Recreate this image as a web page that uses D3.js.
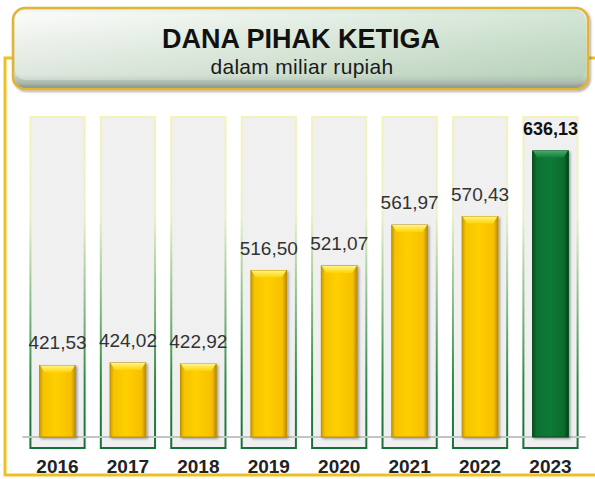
<!DOCTYPE html>
<html>
<head>
<meta charset="utf-8">
<script src="https://cdn.jsdelivr.net/npm/d3@7"></script>
<style>
  html, body { margin: 0; padding: 0; background: #fff; }
  svg { display: block; font-family: "Liberation Sans", Arial, sans-serif; }
</style>
</head>
<body>
<div id="chart"></div>
<script>
(function () {
    "use strict";

    // data
    var years = ["2016", "2017", "2018", "2019", "2020", "2021", "2022", "2023"];
    var values = [421.53, 424.02, 422.92, 516.50, 521.07, 561.97, 570.43, 636.13];
    var labels = ["421,53", "424,02", "422,92", "516,50", "521,07", "561,97", "570,43", "636,13"];
    var highlightYear = "2023";
    var title = "DANA PIHAK KETIGA";
    var subtitle = "dalam miliar rupiah";

    var width = 595, height = 479;

    var svg = d3.select("#chart").append("svg")
        .attr("width", width)
        .attr("height", height);

    var defs = svg.append("defs");

    // title box gradient
    var tg = defs.append("linearGradient").attr("id", "titleGrad")
        .attr("x1", 0).attr("y1", 0).attr("x2", 0).attr("y2", 1);
    [["0%", "#e6ece4"], ["8%", "#f7f9f6"], ["40%", "#e3ebe1"], ["82%", "#ccdacb"], ["93%", "#aab6aa"], ["100%", "#7f8a7f"]]
        .forEach(function (s) { tg.append("stop").attr("offset", s[0]).attr("stop-color", s[1]); });
    var th = defs.append("linearGradient").attr("id", "titleTint")
        .attr("x1", 0).attr("y1", 0).attr("x2", 1).attr("y2", 0);
    th.append("stop").attr("offset", "0%").attr("stop-color", "#ffffff").attr("stop-opacity", 0.35);
    th.append("stop").attr("offset", "100%").attr("stop-color", "#9cc7a4").attr("stop-opacity", 0.4);

    // column outline gradient
    var cg = defs.append("linearGradient").attr("id", "colStroke")
        .attr("x1", 0).attr("y1", 0).attr("x2", 0).attr("y2", 1);
    [["0%", "#f6f1b8"], ["30%", "#e8f2c8"], ["55%", "#8cc08a"], ["80%", "#2e8a46"], ["100%", "#16703a"]]
        .forEach(function (s) { cg.append("stop").attr("offset", s[0]).attr("stop-color", s[1]); });

    // bar gradients
    function barGrad(id, stops) {
        var g = defs.append("linearGradient").attr("id", id)
            .attr("x1", 0).attr("y1", 0).attr("x2", 1).attr("y2", 0);
        stops.forEach(function (s) { g.append("stop").attr("offset", s[0]).attr("stop-color", s[1]); });
    }
    barGrad("goldGrad", [["0%", "#c99a00"], ["10%", "#f5c400"], ["45%", "#ffcf06"], ["88%", "#f6c000"], ["100%", "#b98b00"]]);
    barGrad("greenGrad", [["0%", "#05521f"], ["12%", "#0a7032"], ["50%", "#0b7a36"], ["88%", "#086a2e"], ["100%", "#04481c"]]);

    var capGold = defs.append("linearGradient").attr("id", "capGold")
        .attr("x1", 0).attr("y1", 0).attr("x2", 0).attr("y2", 1);
    capGold.append("stop").attr("offset", "0%").attr("stop-color", "#fff48a");
    capGold.append("stop").attr("offset", "100%").attr("stop-color", "#ffd400");
    var capGreen = defs.append("linearGradient").attr("id", "capGreen")
        .attr("x1", 0).attr("y1", 0).attr("x2", 0).attr("y2", 1);
    capGreen.append("stop").attr("offset", "0%").attr("stop-color", "#4aa866");
    capGreen.append("stop").attr("offset", "100%").attr("stop-color", "#0c7c38");

    var shadow = defs.append("filter").attr("id", "shadow")
        .attr("x", "-20%").attr("y", "-10%").attr("width", "150%").attr("height", "130%");
    shadow.append("feDropShadow").attr("dx", 1.5).attr("dy", 1.5).attr("stdDeviation", 1.2)
        .attr("flood-color", "#000").attr("flood-opacity", 0.35);

    // scales
    var x = d3.scaleBand()
        .domain(years)
        .range([22.3, 585.7])
        .paddingInner(0.23)
        .paddingOuter(0.115);

    var y = d3.scaleLinear()
        .domain([350, 670])
        .range([437, 117]);

    var data = years.map(function (yr, i) {
        return { year: yr, value: values[i], label: labels[i], hi: yr === highlightYear };
    });

    // gold frame
    svg.append("path")
        .attr("d", "M13,58 H5 V475 H595")
        .attr("fill", "none")
        .attr("stroke", "#f0c020")
        .attr("stroke-width", 3);
    svg.append("line")
        .attr("x1", 586).attr("x2", 595).attr("y1", 58).attr("y2", 58)
        .attr("stroke", "#f0c020").attr("stroke-width", 3);

    // title box
    var tbox = svg.append("g").attr("filter", "url(#shadow)");
    tbox.append("rect")
        .attr("x", 13).attr("y", 8).attr("width", 575).attr("height", 81)
        .attr("rx", 12)
        .attr("fill", "url(#titleGrad)")
        .attr("stroke", "#e2b436").attr("stroke-width", 2.5);
    svg.append("rect")
        .attr("x", 15).attr("y", 10).attr("width", 571).attr("height", 70)
        .attr("rx", 10)
        .attr("fill", "url(#titleTint)");

    svg.append("text")
        .attr("x", 301).attr("y", 48)
        .attr("text-anchor", "middle")
        .attr("font-size", 27)
        .attr("font-weight", "bold")
        .attr("fill", "#111")
        .text(title);
    svg.append("text")
        .attr("x", 302).attr("y", 74)
        .attr("text-anchor", "middle")
        .attr("font-size", 21)
        .attr("letter-spacing", 0.3)
        .attr("fill", "#1a1a1a")
        .text(subtitle);

    // background columns
    svg.append("g").selectAll("rect")
        .data(data)
        .enter().append("rect")
        .attr("x", function (d) { return x(d.year); })
        .attr("y", y(670))
        .attr("width", x.bandwidth())
        .attr("height", 448 - y(670))
        .attr("fill", "#f0f0f0")
        .attr("stroke", "url(#colStroke)")
        .attr("stroke-width", 2);

    // baseline
    svg.append("line")
        .attr("x1", x.range()[0]).attr("x2", x.range()[1])
        .attr("y1", y(350)).attr("y2", y(350))
        .attr("stroke", "#c4c4c4")
        .attr("stroke-width", 2);

    // bars
    var barW = x.bandwidth() * 0.66;
    var bars = svg.append("g").selectAll("g")
        .data(data)
        .enter().append("g")
        .attr("transform", function (d) {
            return "translate(" + (x(d.year) + (x.bandwidth() - barW) / 2) + ",0)";
        });

    bars.append("rect")
        .attr("x", 0)
        .attr("y", function (d) { return y(d.value); })
        .attr("width", barW)
        .attr("height", function (d) { return y(350) - y(d.value); })
        .attr("fill", function (d) { return d.hi ? "url(#greenGrad)" : "url(#goldGrad)"; })
        .attr("stroke", function (d) { return d.hi ? "#064d20" : "#c09000"; })
        .attr("stroke-width", 1)
        .attr("filter", "url(#shadow)");

    bars.append("path")
        .attr("d", function (d) {
            var t = y(d.value);
            return "M0.5," + t + " H" + (barW - 0.5) + " L" + (barW - 5) + "," + (t + 7) + " H5 Z";
        })
        .attr("fill", function (d) { return d.hi ? "url(#capGreen)" : "url(#capGold)"; });

    // value labels
    svg.append("g").selectAll("text")
        .data(data)
        .enter().append("text")
        .attr("x", function (d) { return x(d.year) + x.bandwidth() / 2; })
        .attr("y", function (d) { return y(d.value) - 16; })
        .attr("text-anchor", "middle")
        .attr("font-size", function (d) { return d.hi ? 18 : 19; })
        .attr("font-weight", function (d) { return d.hi ? "bold" : "normal"; })
        .attr("fill", function (d) { return d.hi ? "#111" : "#333"; })
        .text(function (d) { return d.label; });

    // year labels
    svg.append("g").selectAll("text")
        .data(data)
        .enter().append("text")
        .attr("x", function (d) { return x(d.year) + x.bandwidth() / 2; })
        .attr("y", 473)
        .attr("text-anchor", "middle")
        .attr("font-size", 19)
        .attr("font-weight", "bold")
        .attr("fill", "#222")
        .text(function (d) { return d.year; });
})();
</script>
</body>
</html>
